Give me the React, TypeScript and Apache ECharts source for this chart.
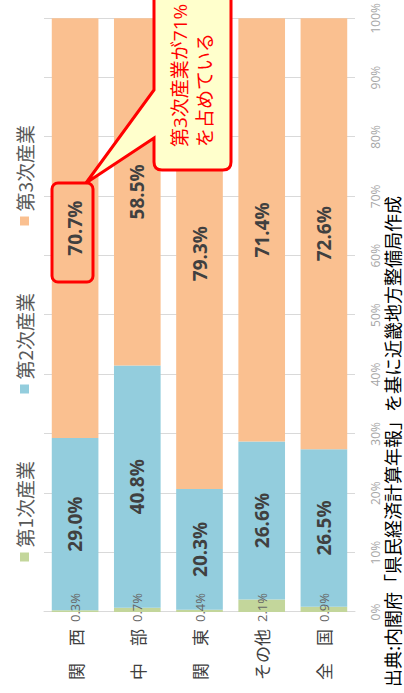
import React, { useEffect, useRef } from "react";
import * as echarts from "echarts";

const categories = ["関　西", "中　部", "関　東", "その他", "全　国"];
const seriesNames = ["第1次産業", "第2次産業", "第3次産業"];
const primaryShare = [0.3, 0.7, 0.4, 2.1, 0.9];
const secondaryShare = [29.0, 40.8, 20.3, 26.6, 26.5];
const tertiaryShare = [70.7, 58.5, 79.3, 71.4, 72.6];
const seriesColors = ["#c3d69b", "#93cddd", "#fac090"];
const sourceText = "出典:内閣府「県民経済計算年報」を基に近畿地方整備局作成";
const calloutLines = ["第3次産業が71%", "を占めている"];

const W = 693;
const H = 404;
const FONT = "'Open Sans', 'Noto Sans CJK JP', sans-serif";
const CJK = "'Noto Sans CJK JP', sans-serif";

const bubblePath =
  "M 531 154 L 555 154 L 510 86 L 603 154 L 712 154 L 712 231 L 531 231 Q 523 231 523 223 L 523 162 Q 523 154 531 154 Z";
echarts.graphic.registerShape("bubble", echarts.graphic.extendPath(bubblePath, {}));

const pct = (p: any) => `${Number(p.value).toFixed(1)}%`;

export default function App() {
  const ref = useRef<HTMLDivElement>(null);
  useEffect(() => {
    if (!ref.current) return;
    const chart = echarts.init(ref.current, undefined, { renderer: "svg", width: W, height: H });
    const legendLefts = [131.5, 299.5, 467.5];
    const data = [primaryShare, secondaryShare, tertiaryShare];
    chart.setOption({
      animation: false,
      backgroundColor: "#ffffff",
      textStyle: { fontFamily: FONT },
      legend: seriesNames.map((n, i) => ({
        data: [n],
        left: legendLefts[i],
        top: 15,
        padding: 0,
        itemWidth: 9,
        itemHeight: 9,
        itemGap: 0,
        icon: "rect",
        selectedMode: false,
        textStyle: { fontSize: 19, color: "#595959", fontFamily: CJK },
      })),
      grid: { left: 81, right: 17, top: 44, bottom: 49 },
      xAxis: {
        type: "value",
        min: 0,
        max: 100,
        interval: 10,
        axisLabel: { formatter: "{value}%", fontSize: 12, color: "#a6a6a6", margin: 14 },
        splitLine: { lineStyle: { color: "#d9d9d9", width: 1 } },
        axisLine: { show: false },
        axisTick: { show: false },
      },
      yAxis: {
        type: "category",
        data: categories,
        inverse: true,
        axisLabel: { fontSize: 17, color: "#404040", margin: 17, fontFamily: CJK },
        axisLine: { show: true, lineStyle: { color: "#d9d9d9" } },
        axisTick: { show: false },
      },
      series: seriesNames.map((n, i) => ({
        name: n,
        type: "bar",
        stack: "total",
        barWidth: "75%",
        data: data[i],
        itemStyle: { color: seriesColors[i] },
        label:
          i === 0
            ? {
                show: true,
                position: "insideLeft",
                distance: 0,
                offset: [-10, 0],
                formatter: pct,
                fontSize: 13,
                color: "#666666",
              }
            : {
                show: true,
                position: "inside",
                formatter: pct,
                fontSize: 19,
                fontWeight: "bold",
                color: "#404040",
              },
      })),
      graphic: [
        {
          type: "rect",
          z: 100,
          shape: { x: 411, y: 52, width: 99, height: 41, r: 6 },
          style: { fill: "none", stroke: "#ff0000", lineWidth: 3 },
        },
        {
          type: "bubble",
          x: 0,
          y: 0,
          z: 100,
          style: { fill: "#ffffcc", stroke: "#ff0000", lineWidth: 3 },
        },
        {
          type: "text",
          x: 546,
          y: 167,
          z: 101,
          style: {
            text: calloutLines.join("\n"),
            fill: "#ff0000",
            fontSize: 19,
            lineHeight: 25,
            fontFamily: FONT,
          },
        },
        {
          type: "text",
          x: 6,
          y: 392,
          z: 101,
          style: {
            text: sourceText,
            fill: "#000000",
            fontSize: 18,
            fontFamily: CJK,
            verticalAlign: "middle",
          },
        },
      ],
    });
    return () => chart.dispose();
  }, []);
  return (
    <div
      style={{
        position: "absolute",
        left: 0,
        top: 0,
        width: 404,
        height: 693,
        overflow: "hidden",
        background: "#ffffff",
      }}
    >
      <div
        ref={ref}
        style={{
          position: "absolute",
          left: 0,
          top: 0,
          width: W,
          height: H,
          transformOrigin: "0 0",
          transform: `translateY(${W}px) rotate(-90deg)`,
        }}
      />
    </div>
  );
}
